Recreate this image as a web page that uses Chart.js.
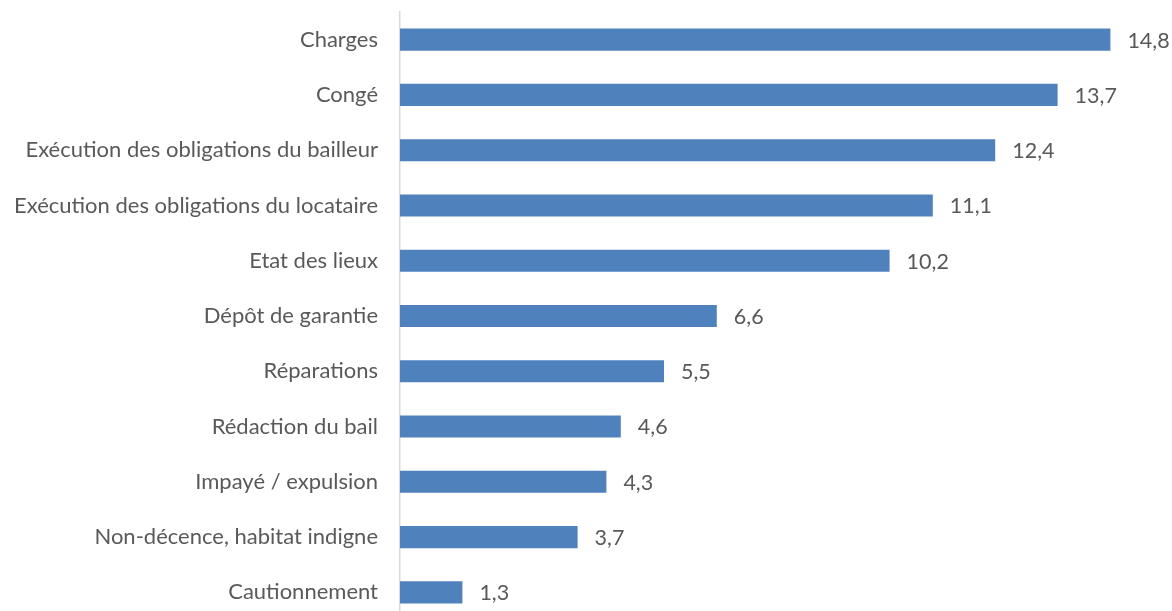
<!DOCTYPE html>
<html><head><meta charset="utf-8">
<script src="https://cdn.jsdelivr.net/npm/chart.js@4/dist/chart.umd.min.js"></script>
<style>html,body{margin:0;padding:0;background:#fff;overflow:hidden;}#wrap{position:relative;width:1172px;height:620px;}</style>
</head><body><div id="wrap"><canvas id="c"></canvas></div>
<script>
const categories = ["Charges","Congé","Exécution des obligations du bailleur","Exécution des obligations du locataire","Etat des lieux","Dépôt de garantie","Réparations","Rédaction du bail","Impayé / expulsion","Non-décence, habitat indigne","Cautionnement"];
const values = [14.8,13.7,12.4,11.1,10.2,6.6,5.5,4.6,4.3,3.7,1.3];
const FONT = "Lato, sans-serif";
const labelPlugin = {
  id:'vlabels',
  afterDatasetsDraw(chart){
    const ctx = chart.ctx;
    const meta = chart.getDatasetMeta(0);
    ctx.save();
    ctx.font = "21.5px " + FONT;
    ctx.fillStyle = "#595959";
    ctx.textAlign = "left";
    ctx.textBaseline = "middle";
    meta.data.forEach((bar,i)=>{
      ctx.fillText(values[i].toFixed(1).replace('.',','), bar.x + 17, bar.y + 1);
    });
    ctx.restore();
  }
};
new Chart(document.getElementById('c'), {
  type:'bar',
  data:{labels:categories, datasets:[{data:values, backgroundColor:'#4f81bd', borderWidth:0, categoryPercentage:0.8, barPercentage:0.5}]},
  options:{
    indexAxis:'y', responsive:true, maintainAspectRatio:false, animation:false,
    layout:{padding:{top:12, right:4, left:0, bottom:0}},
    plugins:{legend:{display:false}, tooltip:{enabled:false}},
    scales:{
      x:{display:false, min:0, max:16},
      y:{
        grid:{display:false, drawTicks:false},
        border:{display:true, color:'#d9d9d9', width:1.5},
        ticks:{padding:22, color:'#595959', font:{family:FONT, size:22}},
        afterFit(s){ s.width = 400; s.paddingTop = 0; s.paddingBottom = 0; }
      }
    }
  },
  plugins:[labelPlugin]
});
</script></body></html>
